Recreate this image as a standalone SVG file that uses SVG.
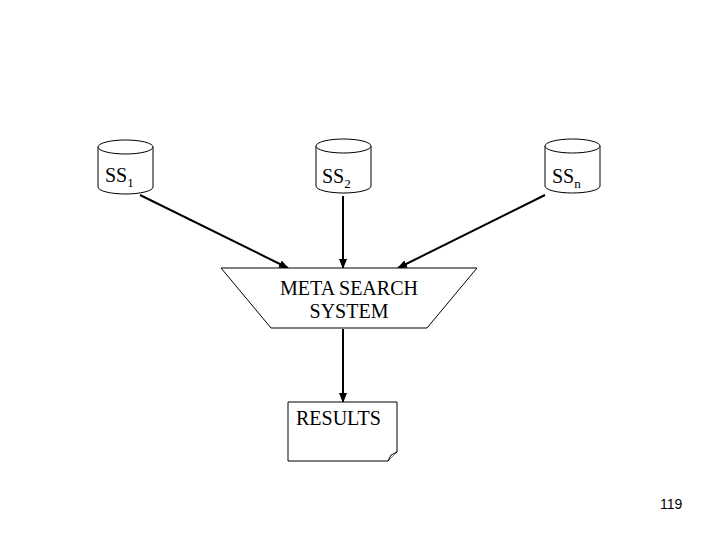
<svg xmlns="http://www.w3.org/2000/svg" width="720" height="540" viewBox="0 0 720 540">
<defs><marker id="ah" markerWidth="10" markerHeight="8" refX="9" refY="4" orient="auto" markerUnits="userSpaceOnUse"><path d="M0,0 L10,4 L0,8 z" fill="#000"/></marker>
<style>.s{fill:#fff;stroke:#000;stroke-width:1}.t{font-family:"Liberation Serif",serif;font-size:20px}.c{stroke:#000;stroke-width:2;fill:none;marker-end:url(#ah)}</style></defs>
<rect width="720" height="540" fill="#fff"/>
<g id="connectors">
<line class="c" x1="140" y1="195" x2="288" y2="268"/>
<line class="c" x1="343" y1="196" x2="343" y2="268"/>
<line class="c" x1="545" y1="195" x2="398" y2="268"/>
<line class="c" x1="343" y1="329" x2="343" y2="402"/>
</g>
<g id="ss1"><path class="s" d="M98,147 v40 a27.5,7 0 0 0 55,0 v-40"/><ellipse class="s" cx="125.5" cy="147" rx="27.5" ry="7"/><text class="t" x="105" y="182">SS<tspan font-size="13" dy="5">1</tspan></text></g>
<g id="ss2"><path class="s" d="M316,146 v40 a27.5,7 0 0 0 55,0 v-40"/><ellipse class="s" cx="343.5" cy="146" rx="27.5" ry="7"/><text class="t" x="322" y="183">SS<tspan font-size="13" dy="5">2</tspan></text></g>
<g id="ssn"><path class="s" d="M545,146 v40 a27.5,7 0 0 0 55,0 v-40"/><ellipse class="s" cx="572.5" cy="146" rx="27.5" ry="7"/><text class="t" x="552" y="183">SS<tspan font-size="13" dy="5">n</tspan></text></g>
<g id="meta"><path class="s" d="M221,268 H477 L427,328 H271 z"/><text class="t" text-anchor="middle" x="349" y="295">META SEARCH</text><text class="t" text-anchor="middle" x="349" y="318">SYSTEM</text></g>
<g id="results"><path class="s" d="M288,402 H397 V452 L388,461 H288 z"/><path class="s" d="M388,461 L391,455 L397,452"/><text class="t" x="296" y="425">RESULTS</text></g>
<text x="660" y="509" font-family="Liberation Sans,sans-serif" font-size="14">119</text>
</svg>
